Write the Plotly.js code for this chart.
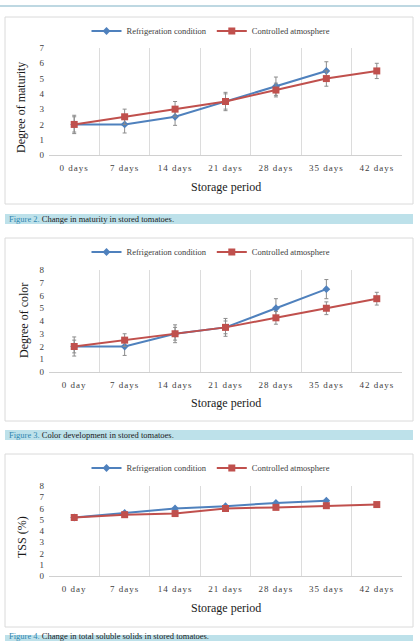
<!DOCTYPE html>
<html>
<head>
<meta charset="utf-8">
<script src="https://cdn.plot.ly/plotly-3.0.1.min.js"></script>
<style>
  html, body { margin: 0; padding: 0; background: #ffffff; }
  #chart { width: 420px; height: 641px; }
  #chart g.xtick text, #chart g.x2tick text, #chart g.x3tick text { letter-spacing: 1px; }
</style>
</head>
<body>
<div id="chart"></div>
<script>
// Storage period categories
const periodDays = ["0 days", "7 days", "14 days", "21 days", "28 days", "35 days", "42 days"];
const periodDay = ["0 day", "7 days", "14 days", "21 days", "28 days", "35 days", "42 days"];

// Figure 2: degree of maturity
const maturityRefrig = [2, 2, 2.5, 3.5, 4.5, 5.5];
const maturityRefrigErr = [0.6, 0.56, 0.56, 0.6, 0.6, 0.6];
const maturityCA = [2, 2.5, 3, 3.5, 4.25, 5, 5.5];
const maturityCAErr = [0.5, 0.5, 0.5, 0.5, 0.45, 0.5, 0.5];

// Figure 3: degree of color
const colorRefrig = [2, 2, 3, 3.5, 5, 6.5];
const colorRefrigErr = [0.75, 0.7, 0.7, 0.7, 0.75, 0.75];
const colorCA = [2, 2.5, 3, 3.5, 4.25, 5, 5.75];
const colorCAErr = [0.5, 0.5, 0.5, 0.5, 0.5, 0.5, 0.5];

// Figure 4: total soluble solids
const tssRefrig = [5.2, 5.6, 6.0, 6.2, 6.5, 6.7];
const tssCA = [5.2, 5.45, 5.55, 6.0, 6.1, 6.25, 6.35];

const seriesNames = ["Refrigeration condition", "Controlled atmosphere"];
const captions = [
  ["Figure 2.", " Change in maturity in stored tomatoes."],
  ["Figure 3.", " Color development in stored tomatoes."],
  ["Figure 4.", " Change in total soluble solids in stored tomatoes."]
];

const W = 420, H = 641;
const fx = p => p / W;
const fy = p => 1 - p / H;

const BLUE = "#4F81BD", RED = "#C0504D", ERR = "#8c8c8c";
const SERIF = "Liberation Serif, Times New Roman, serif";

function refTrace(xs, ys, err, ax, legendId) {
  const t = {
    type: "scatter", mode: "lines+markers", name: seriesNames[0],
    x: xs.slice(0, ys.length), y: ys,
    xaxis: "x" + ax, yaxis: "y" + ax, legend: legendId,
    line: { color: BLUE, width: 2 },
    marker: { symbol: "diamond", size: 6, color: BLUE }
  };
  if (err) t.error_y = { type: "data", array: err, visible: true, color: ERR, thickness: 1, width: 2 };
  return t;
}
function caTrace(xs, ys, err, ax, legendId) {
  const t = {
    type: "scatter", mode: "lines+markers", name: seriesNames[1],
    x: xs.slice(0, ys.length), y: ys,
    xaxis: "x" + ax, yaxis: "y" + ax, legend: legendId,
    line: { color: RED, width: 2 },
    marker: { symbol: "square", size: 7, color: RED }
  };
  if (err) t.error_y = { type: "data", array: err, visible: true, color: ERR, thickness: 1, width: 2 };
  return t;
}

const data = [
  refTrace(periodDays, maturityRefrig, maturityRefrigErr, "", "legend"),
  caTrace(periodDays, maturityCA, maturityCAErr, "", "legend"),
  refTrace(periodDay, colorRefrig, colorRefrigErr, "2", "legend2"),
  caTrace(periodDay, colorCA, colorCAErr, "2", "legend2"),
  refTrace(periodDay, tssRefrig, null, "3", "legend3"),
  caTrace(periodDay, tssCA, null, "3", "legend3")
];

function xAxis(anchor) {
  return {
    type: "category", domain: [fx(49), fx(402)], anchor: anchor,
    range: [-0.5, 6.5], tickson: "boundaries", ticks: "",
    showgrid: true, gridcolor: "#dcdcdc", gridwidth: 1,
    showline: true, linecolor: "#d0d0d0", linewidth: 1, zeroline: false,
    tickfont: { family: SERIF, size: 9, color: "#404040" },
    ticklabelstandoff: 4, fixedrange: true
  };
}
function yAxis(top, bottom, maxV, anchor) {
  return {
    domain: [fy(bottom), fy(top)], anchor: anchor,
    range: [0, maxV], dtick: 1, tick0: 0, ticks: "",
    showgrid: false, showline: false, zeroline: false,
    tickfont: { family: SERIF, size: 9, color: "#404040" },
    ticklabelstandoff: 4, fixedrange: true
  };
}

function legendAt(yPix) {
  return {
    orientation: "h", x: fx(211), xanchor: "center", y: fy(yPix), yanchor: "middle",
    font: { family: SERIF, size: 8.5, color: "#404040" },
    bgcolor: "rgba(0,0,0,0)", itemwidth: 30, tracegroupgap: 0
  };
}

const frames = [[17, 204], [238, 421], [454, 627]];
const bands = [[214, 224], [430, 440], [635, 645]];

const shapes = [
  { type: "line", xref: "paper", yref: "paper", x0: 0, x1: 1, y0: fy(6), y1: fy(6),
    line: { color: "#7fb2c6", width: 1.2 } }
];
frames.forEach(f => shapes.push({
  type: "rect", xref: "paper", yref: "paper", layer: "below",
  x0: fx(5), x1: fx(413), y0: fy(f[1]), y1: fy(f[0]),
  line: { color: "#dadada", width: 1 }, fillcolor: "#ffffff"
}));
bands.forEach(b => shapes.push({
  type: "rect", xref: "paper", yref: "paper", layer: "below",
  x0: fx(5), x1: fx(413), y0: fy(b[1]), y1: fy(b[0]),
  line: { width: 0 }, fillcolor: "#bde1ea"
}));

const ann = [];
function addText(text, xPix, yPix, size, opts) {
  ann.push(Object.assign({
    text: text, xref: "paper", yref: "paper", x: fx(xPix), y: fy(yPix),
    xanchor: "center", yanchor: "middle", showarrow: false,
    font: { family: SERIF, size: size, color: "#1a1a1a" }
  }, opts || {}));
}
// axis titles
addText("Storage period", 226, 187, 12);
addText("Storage period", 226, 403, 12);
addText("Storage period", 226, 608, 12);
addText("Degree of maturity", 21, 108, 12, { textangle: -90 });
addText("Degree of color", 24, 321, 12, { textangle: -90 });
addText("TSS (%)", 22, 537, 12, { textangle: -90 });
// captions
const capY = [219, 435, 636];
captions.forEach((c, i) => addText(
  '<span style="color:#2f86b0">' + c[0] + '</span>' + c[1],
  7, capY[i], 8.5, { xanchor: "left" }
));

const layout = {
  width: W, height: H,
  margin: { l: 0, r: 0, t: 0, b: 0 },
  paper_bgcolor: "#ffffff", plot_bgcolor: "#ffffff",
  showlegend: true,
  xaxis: xAxis("y"), yaxis: yAxis(48, 155, 7, "x"),
  xaxis2: xAxis("y2"), yaxis2: yAxis(270, 372, 8, "x2"),
  xaxis3: xAxis("y3"), yaxis3: yAxis(486, 576, 8, "x3"),
  legend: legendAt(31), legend2: legendAt(252), legend3: legendAt(468),
  shapes: shapes, annotations: ann
};

Plotly.newPlot("chart", data, layout, { displayModeBar: false, staticPlot: true });
</script>
</body>
</html>
